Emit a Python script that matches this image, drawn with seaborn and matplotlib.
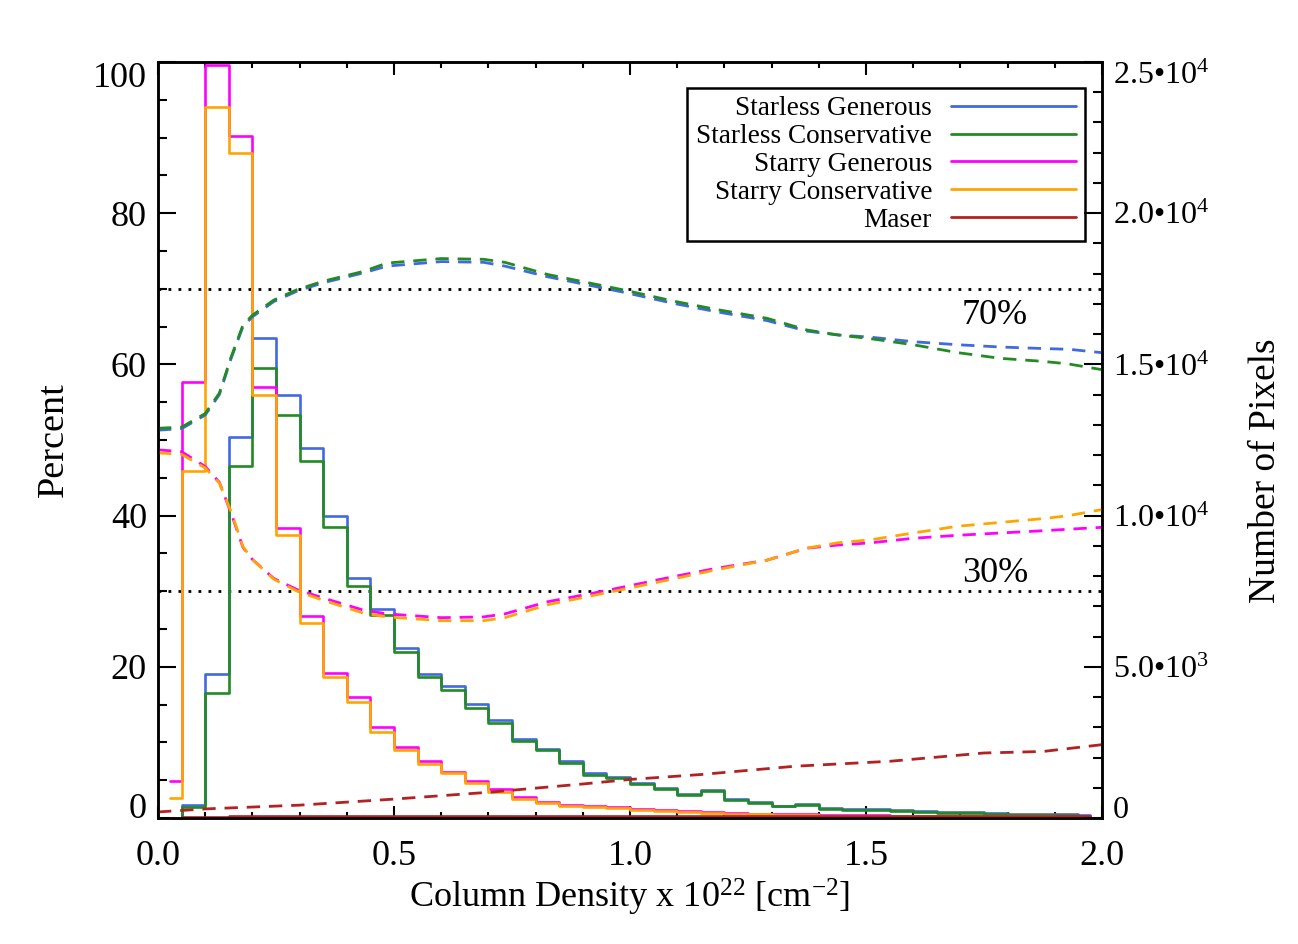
import numpy as np
import pandas as pd
import matplotlib
matplotlib.use("Agg")
import matplotlib.pyplot as plt
import seaborn as sns
from matplotlib.ticker import MultipleLocator

sns.set_style("ticks")
plt.rcParams['font.family'] = ['Liberation Serif', 'DejaVu Serif']
plt.rcParams['mathtext.fontset'] = 'custom'
plt.rcParams['mathtext.rm'] = 'Liberation Serif'
plt.rcParams['mathtext.it'] = 'Liberation Serif:italic'
plt.rcParams['mathtext.bf'] = 'Liberation Serif:bold'
for key in ['text.color', 'axes.labelcolor', 'xtick.color', 'ytick.color', 'axes.edgecolor']:
    plt.rcParams[key] = 'black'

# ---------------- data ----------------
series_names = ["Starless Generous", "Starless Conservative", "Starry Generous",
                "Starry Conservative", "Maser"]
series_colors = ["#4169E1", "#228B22", "#FF00FF", "#FFA500", "#B22222"]

bin_width = 0.05
bin_centers = np.arange(40) * bin_width + bin_width / 2  # 0.025 ... 1.975

starless_generous_hist = [0.0, 1.7, 19.0, 50.4, 63.5, 55.9, 48.9, 40.0, 31.8, 27.7,
                          22.5, 19.1, 17.5, 15.1, 13.0, 10.45, 9.1, 7.5, 5.9, 5.4,
                          4.6, 3.95, 3.2, 3.65, 2.55, 2.1, 1.65, 1.85, 1.35, 1.2,
                          1.2, 1.08, 0.9, 0.82, 0.82, 0.7, 0.56, 0.56, 0.48, 0.42]
starless_conservative_hist = [0.0, 1.4, 16.5, 46.5, 59.5, 53.3, 47.2, 38.5, 30.7, 26.9,
                              21.9, 18.6, 16.9, 14.5, 12.6, 10.2, 8.95, 7.3, 5.75, 5.3,
                              4.5, 3.85, 3.1, 3.55, 2.43, 2.0, 1.55, 1.77, 1.24, 1.1,
                              1.1, 0.98, 0.8, 0.71, 0.71, 0.58, 0.44, 0.44, 0.36, 0.31]
starry_generous_hist = [4.9, 57.7, 99.6, 90.2, 57.05, 38.3, 26.7, 19.2, 16.0, 12.1,
                        9.4, 7.5, 6.1, 4.9, 3.8, 2.8, 2.1, 1.77, 1.55, 1.42,
                        1.24, 1.02, 0.89, 0.8, 0.66, 0.58, 0.5, 0.47, 0.36, 0.35,
                        0.34, 0.33, 0.32, 0.31, 0.3, 0.28, 0.26, 0.25, 0.24, 0.23]
starry_conservative_hist = [2.6, 45.9, 94.1, 87.9, 56.0, 37.4, 25.8, 18.7, 15.4, 11.4,
                            9.0, 7.1, 5.9, 4.6, 3.5, 2.5, 1.95, 1.62, 1.4, 1.28,
                            1.1, 0.9, 0.78, 0.7, 0.57, 0.5, 0.43, 0.4, 0.33, 0.32,
                            0.3, 0.3, 0.28, 0.27, 0.25, 0.22, 0.2, 0.2, 0.18, 0.17]
maser_hist = [0.05, 0.1, 0.15, 0.2, 0.2, 0.2, 0.2, 0.2, 0.25, 0.25,
              0.25, 0.25, 0.25, 0.25, 0.25, 0.25, 0.2, 0.2, 0.2, 0.2,
              0.2, 0.2, 0.2, 0.2, 0.2, 0.2, 0.2, 0.2, 0.2, 0.2,
              0.2, 0.2, 0.2, 0.2, 0.2, 0.2, 0.2, 0.2, 0.2, 0.2]

# fractional (dashed) curves, percent
frac_x = [0.0, 0.05, 0.1, 0.13, 0.155, 0.18, 0.2, 0.245, 0.295, 0.35,
          0.435, 0.485, 0.6, 0.69, 0.735, 0.825, 0.935, 0.99, 1.09, 1.18,
          1.29, 1.375, 1.44, 1.51, 1.6, 1.695, 1.785, 1.875, 1.93, 2.0]
starless_generous_frac = [51.3, 51.5, 53.3, 56.0, 60.8, 65.0, 66.3, 68.3, 69.7, 70.8,
                          72.1, 73.0, 73.6, 73.5, 73.0, 71.6, 70.2, 69.5, 68.1, 67.0,
                          65.8, 64.4, 63.9, 63.6, 63.0, 62.6, 62.3, 62.1, 62.0, 61.55]
starless_conservative_frac = [51.55, 51.7, 53.5, 56.2, 61.0, 65.2, 66.5, 68.5, 69.9, 71.0,
                              72.3, 73.4, 74.0, 73.9, 73.5, 71.9, 70.5, 69.8, 68.4, 67.3,
                              66.1, 64.55, 63.9, 63.4, 62.6, 61.55, 60.8, 60.4, 60.05, 59.3]
starry_generous_frac = [48.7, 48.45, 46.5, 44.4, 40.3, 35.8, 34.2, 31.7, 30.2, 29.1,
                        27.5, 27.0, 26.5, 26.6, 27.0, 28.6, 29.9, 30.6, 31.9, 33.0,
                        34.1, 35.7, 36.1, 36.4, 37.0, 37.4, 37.7, 38.0, 38.2, 38.45]
starry_conservative_frac = [48.3, 48.1, 46.3, 44.3, 40.5, 35.9, 34.2, 31.6, 30.0, 28.8,
                            27.1, 26.6, 26.1, 26.1, 26.5, 28.2, 29.6, 30.3, 31.6, 32.8,
                            34.1, 35.7, 36.4, 36.8, 37.7, 38.6, 39.1, 39.6, 40.0, 40.8]
maser_x = [0.0, 0.1, 0.3, 0.5, 0.7, 0.9, 1.0, 1.15, 1.35, 1.55, 1.75, 1.875, 2.0]
maser_frac = [0.8, 1.2, 1.7, 2.5, 3.4, 4.5, 5.1, 5.75, 6.85, 7.5, 8.6, 8.8, 9.7]

ref_levels = [70, 30]
ref_labels = ["70%", "30%"]
ref_label_pos = [(1.703, 66.5), (1.703, 32.4)]

x_ticks = [0.0, 0.5, 1.0, 1.5, 2.0]
y_ticks = [0, 20, 40, 60, 80, 100]
right_ticks = [0, 5000, 10000, 15000, 20000, 25000]
right_tick_labels = ["0", "5.0•10$^{3}$", "1.0•10$^{4}$", "1.5•10$^{4}$",
                     "2.0•10$^{4}$", "2.5•10$^{4}$"]
pixels_per_percent = 250.0

# ---------------- figure ----------------
fig = plt.figure(figsize=(12.98, 9.44), dpi=100)
ax = fig.add_axes([158 / 1298, 1 - 818 / 944, (1102 - 158) / 1298, (818 - 62) / 944])

hists = [starless_generous_hist, starless_conservative_hist, starry_generous_hist,
         starry_conservative_hist, maser_hist]
hist_lines = []
for name, col, vals in zip(series_names, series_colors, hists):
    df = pd.DataFrame({"x": bin_centers, "y": vals})
    sns.lineplot(data=df, x="x", y="y", ax=ax, color=col, linewidth=1.9,
                 drawstyle="steps-mid", label=name, legend=False, zorder=3)
    hist_lines.append(ax.get_lines()[-1])

fracs = [(frac_x, starless_generous_frac), (frac_x, starless_conservative_frac),
         (frac_x, starry_generous_frac), (frac_x, starry_conservative_frac),
         (maser_x, maser_frac)]
for col, (fx, fy) in zip(series_colors, fracs):
    df = pd.DataFrame({"x": fx, "y": fy})
    sns.lineplot(data=df, x="x", y="y", ax=ax, color=col, linewidth=2.0,
                 linestyle=(0, (4.8, 3.2)), legend=False, zorder=3)

for lvl, lab, pos in zip(ref_levels, ref_labels, ref_label_pos):
    ax.axhline(lvl, color="black", linewidth=2.0, linestyle=(0, (1, 2.6)), zorder=2)
    ax.text(pos[0], pos[1], lab, fontsize=26, ha="left", va="center")

ax.set_xlim(0, 2.0)
ax.set_ylim(0, 100)
ax.set_xticks(x_ticks)
ax.set_xticklabels([f"{v:.1f}" for v in x_ticks])
ax.xaxis.set_minor_locator(MultipleLocator(0.1))
ax.set_yticks(y_ticks)
ax.set_yticklabels([str(v) for v in y_ticks])
ax.yaxis.set_minor_locator(MultipleLocator(5))

ax.tick_params(axis="x", which="both", direction="in", top=True, bottom=True,
               labelsize=26, pad=16, width=1.5, color="black")
ax.tick_params(axis="x", which="major", length=9)
ax.tick_params(axis="x", which="minor", length=4.5)
ax.tick_params(axis="y", which="both", direction="in", left=True, right=False,
               labelsize=26, pad=8, width=1.5, color="black")
ax.tick_params(axis="y", which="major", length=13)
ax.tick_params(axis="y", which="minor", length=6.5)

for sp in ax.spines.values():
    sp.set_visible(True)
    sp.set_linewidth(1.8)
    sp.set_color("black")

ax.set_xlabel("Column Density x 10$^{22}$ [cm$^{-2}$]", fontsize=26, labelpad=3)
ax.set_ylabel("Percent", fontsize=27.5, labelpad=16)

# right axis
ax2 = ax.twinx()
ax2.set_ylim(0, 100 * pixels_per_percent)
ax2.set_yticks(right_ticks)
ax2.set_yticklabels(right_tick_labels)
ax2.yaxis.set_minor_locator(MultipleLocator(1000))
ax2.tick_params(axis="y", which="both", direction="in", labelsize=23, pad=8,
                width=1.5, color="black")
ax2.tick_params(axis="y", which="major", length=13)
ax2.tick_params(axis="y", which="minor", length=6.5)
for sp in ax2.spines.values():
    sp.set_linewidth(1.8)
    sp.set_color("black")
ax2.set_ylabel("Number of Pixels", fontsize=27)
ax2.yaxis.set_label_coords(1.155, 0.46)

# shift edge tick labels inward as in the reference
yt = ax.yaxis.get_major_ticks()
yt[0].label1.set_verticalalignment("baseline")
yt[-1].label1.set_verticalalignment("top")
rt = ax2.yaxis.get_major_ticks()
rt[0].label2.set_verticalalignment("baseline")
rt[-1].label2.set_verticalalignment("top")

leg = ax.legend(handles=hist_lines, labels=series_names, loc="upper right",
                bbox_to_anchor=(0.982, 0.966), borderaxespad=0, markerfirst=False,
                fontsize=19.6, frameon=True, fancybox=False, shadow=False,
                handlelength=4.6, handletextpad=0.7, labelspacing=0.1,
                borderpad=0.32, framealpha=1)
leg.get_frame().set_edgecolor("black")
leg.get_frame().set_linewidth(1.8)
for l in leg.get_lines():
    l.set_linewidth(2.0)
leg.set_zorder(5)

fig.savefig("out.png", dpi=100)
